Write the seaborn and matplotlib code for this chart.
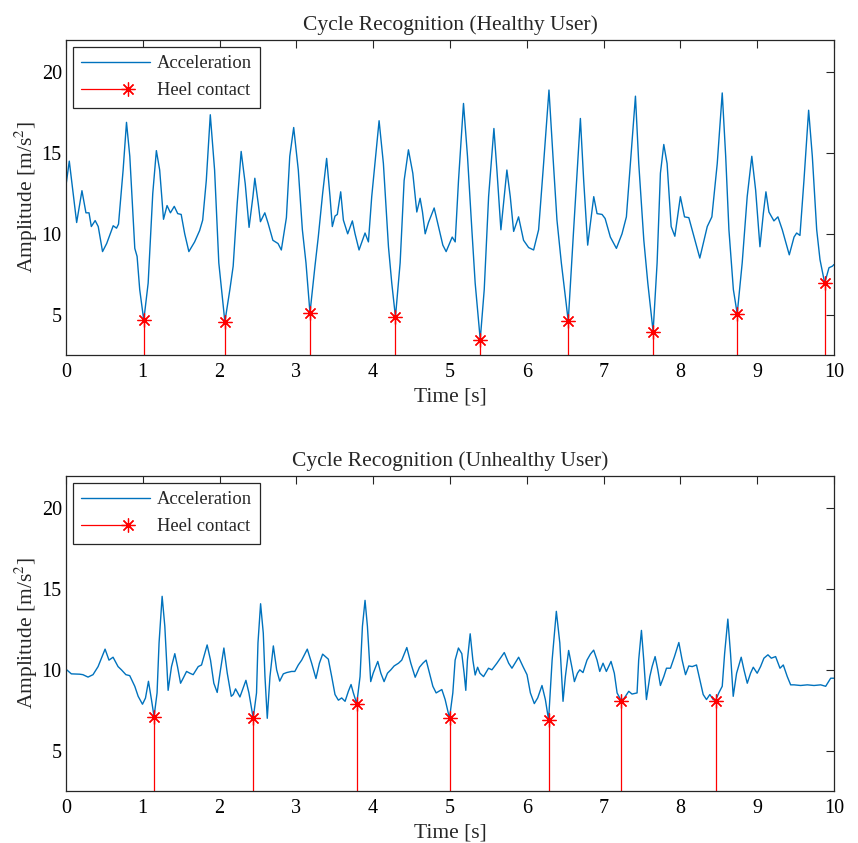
import numpy as np
import pandas as pd
import seaborn as sns
import matplotlib.pyplot as plt
from matplotlib.lines import Line2D
from matplotlib.legend_handler import HandlerLine2D

# values (time in s, acceleration in m/s^2)
healthy_time = [
    0.000, 0.043, 0.139, 0.208, 0.260, 0.300, 0.330, 0.380, 0.420, 0.476,
    0.530, 0.615, 0.658, 0.684, 0.744, 0.788, 0.831, 0.896, 0.926, 0.960,
    1.013, 1.070, 1.130, 1.177, 1.220, 1.270, 1.316, 1.360, 1.410, 1.455,
    1.500, 1.546, 1.600, 1.675, 1.740, 1.780, 1.827, 1.879, 1.935, 1.990,
    2.069, 2.134, 2.177, 2.229, 2.281, 2.334, 2.384, 2.434, 2.459, 2.504,
    2.532, 2.589, 2.632, 2.694, 2.761, 2.804, 2.870, 2.914, 2.965, 3.025,
    3.078, 3.125, 3.177, 3.242, 3.285, 3.342, 3.394, 3.438, 3.468, 3.503,
    3.533, 3.577, 3.612, 3.668, 3.729, 3.764, 3.816, 3.894, 3.938, 3.981,
    4.077, 4.133, 4.199, 4.242, 4.290, 4.351, 4.403, 4.459, 4.516, 4.568,
    4.611, 4.642, 4.677, 4.720, 4.794, 4.851, 4.907, 4.950, 4.994, 5.029,
    5.068, 5.111, 5.176, 5.228, 5.285, 5.328, 5.394, 5.446, 5.503, 5.572,
    5.611, 5.663, 5.741, 5.785, 5.829, 5.893, 5.958, 6.024, 6.089, 6.154,
    6.219, 6.289, 6.341, 6.393, 6.450, 6.540, 6.610, 6.698, 6.741, 6.793,
    6.872, 6.915, 6.980, 7.020, 7.088, 7.167, 7.240, 7.297, 7.349, 7.415,
    7.458, 7.524, 7.576, 7.645, 7.697, 7.740, 7.784, 7.827, 7.880, 7.928,
    8.000, 8.054, 8.110, 8.153, 8.253, 8.350, 8.410, 8.480, 8.545, 8.590,
    8.632, 8.690, 8.740, 8.805, 8.870, 8.930, 8.980, 9.036, 9.080, 9.114,
    9.153, 9.218, 9.270, 9.327, 9.418, 9.480, 9.514, 9.557, 9.609, 9.670,
    9.718, 9.775, 9.818, 9.879, 9.935, 9.980, 10.000]
healthy_acc = [
    13.0, 14.5, 10.7, 12.67, 11.3, 11.3, 10.45, 10.82, 10.45, 8.9,
    9.4, 10.5, 10.35, 10.6, 13.95, 16.9, 14.8, 9.1, 8.6, 6.55,
    4.65, 6.95, 12.5, 15.15, 13.95, 10.9, 11.75, 11.3, 11.7, 11.25,
    11.2, 10.0, 8.9, 9.5, 10.2, 10.85, 13.3, 17.37, 13.95, 8.2,
    4.55, 6.55, 8.0, 11.85, 15.1, 13.1, 10.4, 12.3, 13.44, 11.85,
    10.75, 11.3, 10.65, 9.6, 9.4, 9.0, 11.0, 14.8, 16.58, 13.95,
    10.25, 8.2, 5.1, 8.0, 9.8, 12.5, 14.67, 12.3, 10.45, 11.1,
    11.2, 12.6, 10.85, 10.0, 10.8, 10.0, 9.0, 10.05, 9.5, 12.3,
    17.0, 14.35, 9.2, 6.95, 4.85, 8.2, 13.3, 15.2, 13.75, 11.35,
    12.2, 11.35, 10.0, 10.7, 11.6, 10.45, 9.3, 8.9, 9.4, 9.8,
    9.5, 13.3, 18.07, 14.8, 10.25, 6.95, 3.45, 6.55, 12.3, 16.52,
    13.95, 10.25, 13.95, 12.3, 10.15, 11.05, 9.6, 9.15, 9.0, 10.25,
    14.35, 18.9, 14.8, 10.85, 8.2, 4.6, 10.25, 17.14, 13.3, 9.3,
    12.3, 11.25, 11.2, 10.95, 9.8, 9.1, 10.0, 11.05, 14.35, 18.52,
    14.35, 9.6, 6.95, 3.95, 8.2, 13.75, 15.53, 14.35, 10.45, 9.85,
    12.3, 11.05, 11.0, 10.25, 8.5, 10.45, 11.05, 14.35, 18.72, 14.8,
    10.25, 6.55, 5.05, 8.2, 12.3, 14.8, 12.7, 9.2, 11.25, 12.6,
    11.35, 10.8, 11.05, 10.25, 8.7, 9.8, 10.05, 9.9, 13.3, 17.65,
    14.8, 10.25, 8.4, 6.95, 7.9, 8.0, 8.1]
healthy_heel_time = [1.013, 2.069, 3.177, 4.290, 5.394, 6.540, 7.645, 8.740, 9.879]
healthy_heel_acc = [4.65, 4.55, 5.1, 4.85, 3.45, 4.6, 3.95, 5.05, 6.95]

unhealthy_time = [
    0.000, 0.070, 0.178, 0.220, 0.287, 0.352, 0.418, 0.509, 0.560, 0.613,
    0.678, 0.722, 0.780, 0.830, 0.896, 0.940, 0.996, 1.035, 1.074, 1.113,
    1.147, 1.186, 1.212, 1.252, 1.287, 1.330, 1.374, 1.417, 1.452, 1.492,
    1.526, 1.570, 1.613, 1.656, 1.722, 1.765, 1.795, 1.838, 1.882, 1.925,
    1.969, 2.012, 2.056, 2.100, 2.152, 2.178, 2.208, 2.265, 2.308, 2.343,
    2.382, 2.438, 2.481, 2.500, 2.534, 2.569, 2.591, 2.621, 2.656, 2.700,
    2.743, 2.783, 2.830, 2.873, 2.938, 2.980, 3.025, 3.069, 3.142, 3.199,
    3.255, 3.300, 3.342, 3.416, 3.460, 3.503, 3.547, 3.590, 3.634, 3.677,
    3.712, 3.742, 3.786, 3.829, 3.860, 3.894, 3.925, 3.968, 4.000, 4.060,
    4.100, 4.142, 4.186, 4.230, 4.273, 4.330, 4.372, 4.438, 4.490, 4.547,
    4.603, 4.647, 4.690, 4.733, 4.777, 4.820, 4.894, 4.937, 4.994, 5.037,
    5.067, 5.110, 5.154, 5.184, 5.206, 5.227, 5.263, 5.298, 5.328, 5.360,
    5.390, 5.437, 5.502, 5.546, 5.611, 5.707, 5.764, 5.807, 5.894, 5.951,
    6.003, 6.047, 6.098, 6.142, 6.198, 6.242, 6.284, 6.330, 6.385, 6.430,
    6.472, 6.503, 6.545, 6.590, 6.620, 6.660, 6.690, 6.732, 6.784, 6.828,
    6.871, 6.915, 6.950, 6.993, 7.036, 7.097, 7.140, 7.176, 7.228, 7.271,
    7.328, 7.370, 7.436, 7.457, 7.493, 7.523, 7.558, 7.602, 7.632, 7.671,
    7.706, 7.740, 7.784, 7.819, 7.871, 7.923, 7.980, 8.023, 8.067, 8.110,
    8.154, 8.210, 8.253, 8.297, 8.340, 8.384, 8.427, 8.458, 8.500, 8.545,
    8.576, 8.618, 8.653, 8.688, 8.732, 8.792, 8.828, 8.871, 8.914, 8.949,
    9.000, 9.044, 9.088, 9.140, 9.184, 9.240, 9.297, 9.340, 9.392, 9.436,
    9.480, 9.566, 9.653, 9.740, 9.827, 9.892, 9.957, 10.000]
unhealthy_acc = [
    10.04, 9.75, 9.73, 9.7, 9.55, 9.7, 10.2, 11.28, 10.6, 10.78,
    10.2, 10.0, 9.7, 9.64, 8.98, 8.36, 7.87, 8.25, 9.29, 8.15,
    7.1, 8.57, 11.67, 14.55, 12.69, 8.73, 10.2, 11.0, 10.2, 9.17,
    9.48, 9.9, 9.79, 9.7, 10.2, 10.3, 10.82, 11.54, 10.6, 9.17,
    8.6, 10.0, 11.35, 9.79, 8.36, 8.47, 8.82, 8.32, 8.88, 9.35,
    8.57, 7.0, 8.57, 11.67, 14.09, 12.27, 9.58, 7.0, 9.58, 11.48,
    10.0, 9.3, 9.75, 9.83, 9.9, 9.9, 10.3, 10.6, 11.28, 10.41,
    9.46, 10.41, 10.97, 10.66, 9.58, 8.47, 8.12, 8.26, 8.05, 8.67,
    9.09, 8.57, 7.9, 9.58, 12.69, 14.3, 12.69, 9.27, 9.79, 10.52,
    9.79, 9.27, 9.79, 10.0, 10.24, 10.41, 10.6, 11.38, 10.41, 9.54,
    10.16, 10.41, 10.6, 9.79, 8.98, 8.57, 8.78, 8.16, 7.0, 8.57,
    10.6, 11.35, 11.0, 9.79, 8.73, 10.6, 12.23, 10.6, 9.68, 10.16,
    9.79, 9.58, 10.1, 10.0, 10.41, 11.07, 10.41, 10.1, 10.78, 10.2,
    9.7, 8.57, 7.91, 8.26, 9.03, 8.16, 6.9, 10.6, 13.62, 11.67,
    8.05, 9.6, 11.2, 10.1, 9.27, 9.79, 10.0, 9.83, 10.6, 10.97,
    11.22, 10.6, 9.9, 10.41, 9.9, 10.52, 9.79, 8.57, 8.1, 8.26,
    8.67, 8.5, 8.57, 10.6, 12.44, 10.6, 8.16, 9.58, 10.2, 10.82,
    10.0, 9.03, 9.58, 10.1, 10.1, 10.82, 11.69, 10.6, 9.7, 10.24,
    10.2, 10.3, 9.38, 8.47, 8.16, 8.47, 8.16, 8.1, 8.57, 8.98,
    11.0, 13.14, 11.0, 8.36, 9.79, 10.78, 10.0, 9.17, 9.79, 10.16,
    9.79, 10.2, 10.72, 10.93, 10.72, 10.82, 10.1, 10.3, 9.58, 9.07,
    9.07, 9.03, 9.07, 9.03, 9.07, 8.98, 9.48, 9.48]
unhealthy_heel_time = [1.147, 2.438, 3.786, 4.994, 6.284, 7.228, 8.458]
unhealthy_heel_acc = [7.1, 7.0, 7.9, 7.0, 6.9, 8.1, 8.1]

x_ticks = list(range(0, 11))
y_ticks = [5, 10, 15, 20]

sns.set_style("white")
plt.rcParams["font.family"] = ["Liberation Serif", "DejaVu Serif"]
plt.rcParams["mathtext.fontset"] = "stix"
plt.rcParams["xtick.direction"] = "in"
plt.rcParams["ytick.direction"] = "in"

BLUE = "#0072BD"
DARK = "#262626"
STAR = (8, 2, 0)


def stem_legend_line(legend_line, orig):
    # MATLAB stem legend: shorter red line ending in the marker
    legend_line.update_from(orig)
    xd = legend_line.get_xdata()
    yd = legend_line.get_ydata()
    x0, x1 = xd[0], xd[-1]
    legend_line.set_data([x0, x0 + 0.68 * (x1 - x0)], [yd[0], yd[0]])
    legend_line.set_markevery([1])


def draw_panel(ax, time, acc, heel_t, heel_v, title):
    df = pd.DataFrame({"time": time, "acc": acc})
    sns.lineplot(data=df, x="time", y="acc", ax=ax, color=BLUE,
                 linewidth=1.0, estimator=None, sort=False)
    ax.get_lines()[-1].set_solid_joinstyle("round")
    # stems from the zero baseline, clipped by the axis like in MATLAB
    ax.vlines(heel_t, 0, heel_v, color="red", linewidth=0.9)
    ax.plot(heel_t, heel_v, linestyle="none", marker=STAR, markersize=10,
            color="red", markeredgewidth=0.9)

    ax.set_xlim(0, 10)
    ax.set_ylim(2.5, 22)
    ax.set_xticks(x_ticks)
    ax.set_yticks(y_ticks)
    ax.tick_params(top=True, right=True, length=5.5, width=0.8,
                   colors=DARK, labelsize=14.5, labelcolor="black")
    ax.tick_params(axis="x", pad=6)
    ax.tick_params(axis="y", pad=3)
    for sp in ax.spines.values():
        sp.set_visible(True)
        sp.set_color(DARK)
        sp.set_linewidth(0.9)

    ax.set_title(title, fontsize=15.5, pad=7)
    ax.set_xlabel("Time [s]", fontsize=15.5, labelpad=4)
    ax.set_ylabel("Amplitude [m/s$^2$]", fontsize=15.5, labelpad=1)

    acc_handle = Line2D([0, 1], [0, 1], color=BLUE, linewidth=1.0)
    heel_handle = Line2D([0, 1], [0, 1], color="red", linewidth=0.9,
                         marker=STAR, markersize=10, markeredgewidth=0.9)
    leg = ax.legend([acc_handle, heel_handle], ["Acceleration", "Heel contact"],
                    loc="upper left", numpoints=1, fontsize=13.3,
                    handlelength=3.7, handletextpad=0.38,
                    fancybox=False, framealpha=1, edgecolor=DARK,
                    borderaxespad=0.38, borderpad=0.45, labelspacing=0.55,
                    handler_map={heel_handle: HandlerLine2D(update_func=stem_legend_line)})
    leg.get_frame().set_linewidth(0.9)


fig = plt.figure(figsize=(8.58, 8.43), dpi=100)
ax_top = fig.add_axes([0.0769, 0.5789, 0.8951, 0.3737])
ax_bot = fig.add_axes([0.0769, 0.0617, 0.8951, 0.3737])

draw_panel(ax_top, healthy_time, healthy_acc, healthy_heel_time,
           healthy_heel_acc, "Cycle Recognition (Healthy User)")
draw_panel(ax_bot, unhealthy_time, unhealthy_acc, unhealthy_heel_time,
           unhealthy_heel_acc, "Cycle Recognition (Unhealthy User)")

fig.savefig("out.png", dpi=100)
